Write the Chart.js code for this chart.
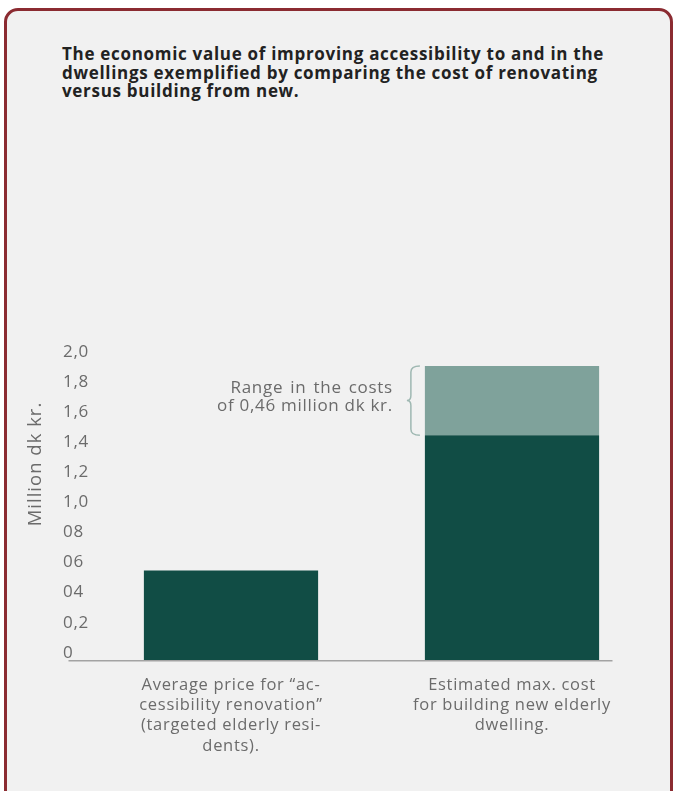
<!DOCTYPE html>
<html>
<head>
<meta charset="utf-8">
<script src="https://cdn.jsdelivr.net/npm/chart.js@4"></script>
<style>
body { margin: 0; background: #fff; width: 674px; height: 791px; overflow: hidden; position: relative; font-family: "Open Sans", sans-serif; }
.card { position: absolute; left: 4px; top: 8px; width: 663px; height: 790px; border: 3px solid #8b2b31; border-radius: 14px; background: #f1f1f1; }
.title { position: absolute; left: 62px; top: 45px; width: 600px; font-weight: 700; font-size: 17px; line-height: 18.5px; letter-spacing: 0.7px; color: #222; }
#chart1 { position: absolute; left: 0; top: 0; }
</style>
</head>
<body>
<div class="card"></div>
<div class="title">The economic value of improving accessibility to and in the<br>dwellings exemplified by comparing the cost of renovating<br>versus building from new.</div>
<canvas id="chart1" width="674" height="791"></canvas>
<script>
const categories = [
    ["Average price for \u201cac-", "cessibility renovation\u201d", "(targeted elderly resi-", "dents)."],
    ["Estimated max. cost", "for building new elderly", "dwelling."]
];
const baseCost = [0.6, 1.5];
const costRange = [0, 0.46];
const yTickLabels = ['0', '0,2', '04', '06', '08', '1,0', '1,2', '1,4', '1,6', '1,8', '2,0'];
const yTitle = 'Million dk kr.';
const rangeNote = ['Range in the costs', 'of 0,46 million dk kr.'];

const grey = '#6b6b6b';
const font = '"Open Sans", sans-serif';

// wider spacing so the text runs as wide as the original typeface
const spacing = {
    id: 'spacing',
    beforeDraw(chart) {
        chart.ctx.letterSpacing = '0.7px';
    }
};

// axis line, y title and the brace note
const extras = {
    id: 'extras',
    afterDraw(chart) {
        const ctx = chart.ctx;
        const area = chart.chartArea;
        const y0 = chart.scales.y.getPixelForValue(0);
        ctx.save();
        ctx.strokeStyle = '#a3a3a3';
        ctx.lineWidth = 1.5;
        ctx.beginPath();
        ctx.moveTo(area.left - 22, y0);
        ctx.lineTo(area.right - 40, y0);
        ctx.stroke();

        ctx.fillStyle = grey;
        ctx.font = '18.5px ' + font;
        ctx.letterSpacing = '1px';
        ctx.textAlign = 'center';
        ctx.textBaseline = 'middle';
        ctx.translate(area.left - 55, area.top + 104);
        ctx.rotate(-Math.PI / 2);
        ctx.fillText(yTitle, 0, 0);
        ctx.restore();

        const bar = chart.getDatasetMeta(1).data[1];
        const top = bar.y, bottom = bar.base;
        const bx = bar.x - bar.width / 2 - 14;
        const mid = (top + bottom) / 2;
        ctx.save();
        ctx.strokeStyle = '#9fb8b2';
        ctx.lineWidth = 1.5;
        ctx.beginPath();
        ctx.moveTo(bx + 9, top);
        ctx.quadraticCurveTo(bx, top, bx, top + 6);
        ctx.lineTo(bx, mid - 5);
        ctx.quadraticCurveTo(bx, mid, bx - 4, mid);
        ctx.quadraticCurveTo(bx, mid, bx, mid + 5);
        ctx.lineTo(bx, bottom - 6);
        ctx.quadraticCurveTo(bx, bottom, bx + 9, bottom);
        ctx.stroke();

        ctx.fillStyle = grey;
        ctx.font = '17px ' + font;
        ctx.letterSpacing = '0.7px';
        ctx.wordSpacing = '2px';
        ctx.textAlign = 'right';
        ctx.textBaseline = 'middle';
        ctx.fillText(rangeNote[0], bx - 18, mid - 12);
        ctx.wordSpacing = '0px';
        ctx.fillText(rangeNote[1], bx - 18, mid + 6);
        ctx.restore();
    }
};

const config = {
    type: 'bar',
    data: {
        labels: categories,
        datasets: [{
            label: 'Cost',
            data: baseCost,
            backgroundColor: '#114d45',
            barPercentage: 0.62,
            categoryPercentage: 1
        },
        {
            label: 'Range',
            data: costRange,
            backgroundColor: '#7fa29b',
            barPercentage: 0.62,
            categoryPercentage: 1
        }]
    },
    options: {
        responsive: false,
        animation: false,
        layout: {
            padding: { left: 63, right: 21.5, top: 360, bottom: 29 }
        },
        plugins: {
            legend: { display: false },
            tooltip: { enabled: false }
        },
        scales: {
            x: {
                stacked: true,
                grid: { display: false },
                border: { display: false },
                ticks: {
                    color: grey,
                    padding: 6,
                    maxRotation: 0,
                    autoSkip: false,
                    font: { family: font, size: 16.5, lineHeight: 1.23 }
                }
            },
            y: {
                stacked: true,
                min: 0,
                max: 2,
                grid: { display: false },
                border: { display: false },
                afterFit(scale) { scale.width = 27.5; },
                ticks: {
                    stepSize: 0.2,
                    crossAlign: 'far',
                    padding: 0,
                    labelOffset: -8,
                    color: grey,
                    font: { family: font, size: 17 },
                    callback: (v, i) => yTickLabels[i]
                }
            }
        }
    },
    plugins: [spacing, extras]
};

const ctx1 = document.getElementById('chart1').getContext('2d');
const chart1 = new Chart(ctx1, config);
</script>
</body>
</html>
